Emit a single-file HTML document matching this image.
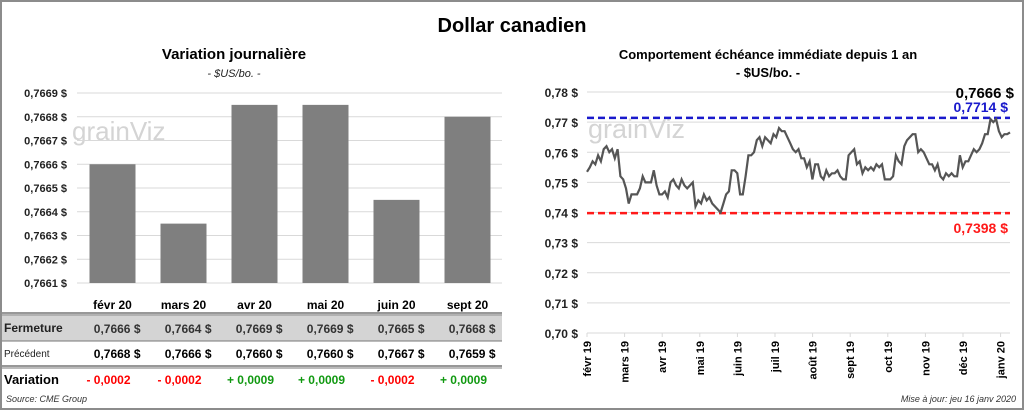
<!DOCTYPE html>
<html><head><meta charset="utf-8">
<style>
body{margin:0;width:1024px;height:410px;overflow:hidden;background:#fff;font-family:"Liberation Sans",sans-serif}
svg text{font-family:"Liberation Sans",sans-serif}
</style></head><body>
<svg id="svg" width="1024" height="410" xmlns="http://www.w3.org/2000/svg">
<rect x="1" y="1" width="1022" height="408" fill="#fff" stroke="#8c8c8c" stroke-width="2"/>
<text x="512" y="32" text-anchor="middle" font-size="20" font-weight="bold" fill="#000">Dollar canadien</text>
<text x="234" y="59" text-anchor="middle" font-size="15" font-weight="bold">Variation  journalière</text>
<text x="234" y="77" text-anchor="middle" font-size="11" font-style="italic" fill="#222">- $US/bo. -</text>
<text x="768" y="59" text-anchor="middle" font-size="13" font-weight="bold">Comportement échéance immédiate depuis 1 an</text>
<text x="768" y="77" text-anchor="middle" font-size="13" font-weight="bold">- $US/bo. -</text>
<g id="left"></g>
<g id="right"></g>
<g id="table"></g>
<text x="6" y="402" font-size="9" font-style="italic" fill="#333">Source: CME Group</text>
<text x="1016" y="402" text-anchor="end" font-size="9" font-style="italic" fill="#333">Mise à jour: jeu 16 janv 2020</text>
</svg>
<script>
const NS="http://www.w3.org/2000/svg";
// Left chart data
const barCats=["févr 20","mars 20","avr 20","mai 20","juin 20","sept 20"];
const barVals=[0.7666,0.76635,0.76685,0.76685,0.76645,0.7668];
const barTicks=[0.7661,0.7662,0.7663,0.7664,0.7665,0.7666,0.7667,0.7668,0.7669];
const closeVals=["0,7666","0,7664","0,7669","0,7669","0,7665","0,7668"];
const prevVals=["0,7668","0,7666","0,7660","0,7660","0,7667","0,7659"];
const varVals=["- 0,0002","- 0,0002","+ 0,0009","+ 0,0009","- 0,0002","+ 0,0009"];
// Right chart data
const lineTicks=[0.70,0.71,0.72,0.73,0.74,0.75,0.76,0.77,0.78];
const monthLabels=["févr 19","mars 19","avr 19","mai 19","juin 19","juil 19","août 19","sept 19","oct 19","nov 19","déc 19","janv 20"];
const prices=[0.7535,0.755,0.757,0.756,0.759,0.757,0.761,0.762,0.760,0.761,0.758,0.761,0.752,0.751,0.748,0.743,0.746,0.746,0.746,0.748,0.752,0.750,0.750,0.750,0.754,0.749,0.746,0.746,0.747,0.745,
0.750,0.751,0.749,0.748,0.751,0.749,0.748,0.749,0.750,0.742,0.744,0.743,0.746,0.744,0.745,0.743,0.742,0.741,
0.740,0.743,0.746,0.747,0.754,0.754,0.753,0.746,0.746,0.752,0.759,0.759,0.760,0.764,0.765,0.762,0.765,0.764,0.763,0.766,0.765,0.768,0.767,0.767,0.765,0.763,0.761,0.760,0.761,0.758,0.758,0.755,0.757,0.751,0.756,0.756,0.752,0.751,0.754,0.752,0.753,0.753,0.754,0.752,0.751,0.751,0.759,0.760,0.761,0.756,0.757,0.753,0.755,0.754,0.755,0.754,0.756,0.755,0.756,0.751,0.751,0.751,0.752,0.759,0.757,0.756,0.762,0.764,0.765,0.766,0.766,0.760,0.761,0.760,0.758,0.756,0.756,0.754,0.756,0.752,0.751,0.753,0.752,0.753,0.752,0.752,0.759,0.755,0.757,0.757,0.759,0.761,0.760,0.761,0.763,0.766,0.766,0.771,0.770,0.771,0.767,0.765,0.766,0.766,0.7666];
const highVal=0.7714, lowVal=0.7398, lastVal=0.7666;

function mk(tag,attrs,parent,txt){const e=document.createElementNS(NS,tag);for(const k in attrs)e.setAttribute(k,attrs[k]);if(txt!==undefined)e.textContent=txt;parent.appendChild(e);return e;}
const fmt4=v=>v.toFixed(4).replace('.',',')+' $';
const fmt2=v=>v.toFixed(2).replace('.',',')+' $';

// ---- Left bar chart
const L=document.getElementById('left');
const ly=v=>283-(v-0.7661)/0.0008*(283-93);
const bx0=77,bw=71;
mk('text',{x:72,y:140,'font-size':26,fill:'#d4d4d4',},L,'grainViz');
barTicks.forEach(t=>{
  const g=mk('line',{x1:77,x2:502,y1:ly(t),y2:ly(t),stroke:'#d9d9d9'},L);
  
  const tx=mk('text',{x:67,y:ly(t)+4,'text-anchor':'end','font-size':11,'font-weight':'bold',fill:'#222'},L,fmt4(t));
  
});
barVals.forEach((v,i)=>{
  const cx=bx0+bw*(i+0.5);
  const r=mk('rect',{x:cx-23,y:ly(v),width:46,height:283-ly(v),fill:'#7f7f7f'},L);
  
});

// ---- Table
const T=document.getElementById('table');
mk('rect',{x:2,y:314,width:500,height:27,fill:'#d4d4d4'},T);
[[2,313],[2,341],[2,366]].forEach(([x,y],k)=>{mk('line',{x1:2,x2:502,y1:y,y2:y,stroke:'#777','stroke-width':k==1?1:1.5},T);});
mk('line',{x1:2,x2:502,y1:368,y2:368,stroke:'#777','stroke-width':1},T);
mk('line',{x1:2,x2:502,y1:315,y2:315,stroke:'#777','stroke-width':0.8},T);
mk('text',{x:4,y:332,'font-size':12,'font-weight':'bold',fill:'#222'},T,'Fermeture');
mk('text',{x:4,y:357,'font-size':10,fill:'#222'},T,'Précédent');
mk('text',{x:4,y:384,'font-size':13,'font-weight':'bold',fill:'#000'},T,'Variation');
barCats.forEach((c,i)=>{
  const cx=bx0+bw*(i+0.5);
  const h=mk('text',{x:cx,y:309,'text-anchor':'middle','font-size':12,'font-weight':'bold'},T,c);
  
  const a=mk('text',{x:cx+28,y:333,'text-anchor':'end','font-size':12,'font-weight':'bold',fill:'#333'},T,closeVals[i]+'  $');
  
  const b=mk('text',{x:cx+28,y:358,'text-anchor':'end','font-size':12,'font-weight':'bold'},T,prevVals[i]+'  $');
  
  const d=mk('text',{x:cx-4,y:384,'text-anchor':'middle','font-size':12,'font-weight':'bold',fill:varVals[i][0]=='-'?'#ff0000':'#119911'},T,varVals[i]);
  
});

// ---- Right line chart
const R=document.getElementById('right');
const px0=587,px1=1010;
const ry=v=>333-(v-0.70)/0.08*(333-92);
const rx=i=>px0+(px1-px0)*i/(prices.length-1);
mk('text',{x:588,y:138,'font-size':27,fill:'#d4d4d4',},R,'grainViz');
lineTicks.forEach(t=>{
  const g=mk('line',{x1:px0,x2:px1,y1:ry(t),y2:ry(t),stroke:'#d9d9d9'},R);
  
  const tx=mk('text',{x:578,y:ry(t)+5,'text-anchor':'end','font-size':12,'font-weight':'bold',fill:'#222'},R,fmt2(t));
  
});
monthLabels.forEach((m,i)=>{
  const x=px0+i*37.6;
  mk('line',{x1:x,x2:x,y1:333,y2:337,stroke:'#d9d9d9'},R);
  const tx=mk('text',{x:x+4,y:341,'text-anchor':'end','font-size':11,'font-weight':'bold',transform:`rotate(-90 ${x+4} 341)`},R,m);
  
});
const hi=mk('line',{x1:px0,x2:px1,y1:ry(highVal),y2:ry(highVal),stroke:'#1a1acc','stroke-width':2.5,'stroke-dasharray':'7,4'},R);

const lo=mk('line',{x1:px0,x2:px1,y1:ry(lowVal),y2:ry(lowVal),stroke:'#ff1a1a','stroke-width':2.5,'stroke-dasharray':'7,4'},R);

const p=mk('polyline',{points:prices.map((v,i)=>rx(i).toFixed(1)+','+ry(v).toFixed(1)).join(' '),fill:'none',stroke:'#555','stroke-width':2.2},R);

const t1=mk('text',{x:1008,y:ry(highVal)-6,'text-anchor':'end','font-size':14,'font-weight':'bold',fill:'#1a1acc'},R,highVal.toFixed(4).replace('.',',')+' $');

const t2=mk('text',{x:1014,y:98,'text-anchor':'end','font-size':15,'font-weight':'bold',fill:'#000'},R,lastVal.toFixed(4).replace('.',',')+' $');

const t3=mk('text',{x:1008,y:ry(lowVal)+20,'text-anchor':'end','font-size':14,'font-weight':'bold',fill:'#ff1a1a'},R,lowVal.toFixed(4).replace('.',',')+' $');

</script>
</body></html>
